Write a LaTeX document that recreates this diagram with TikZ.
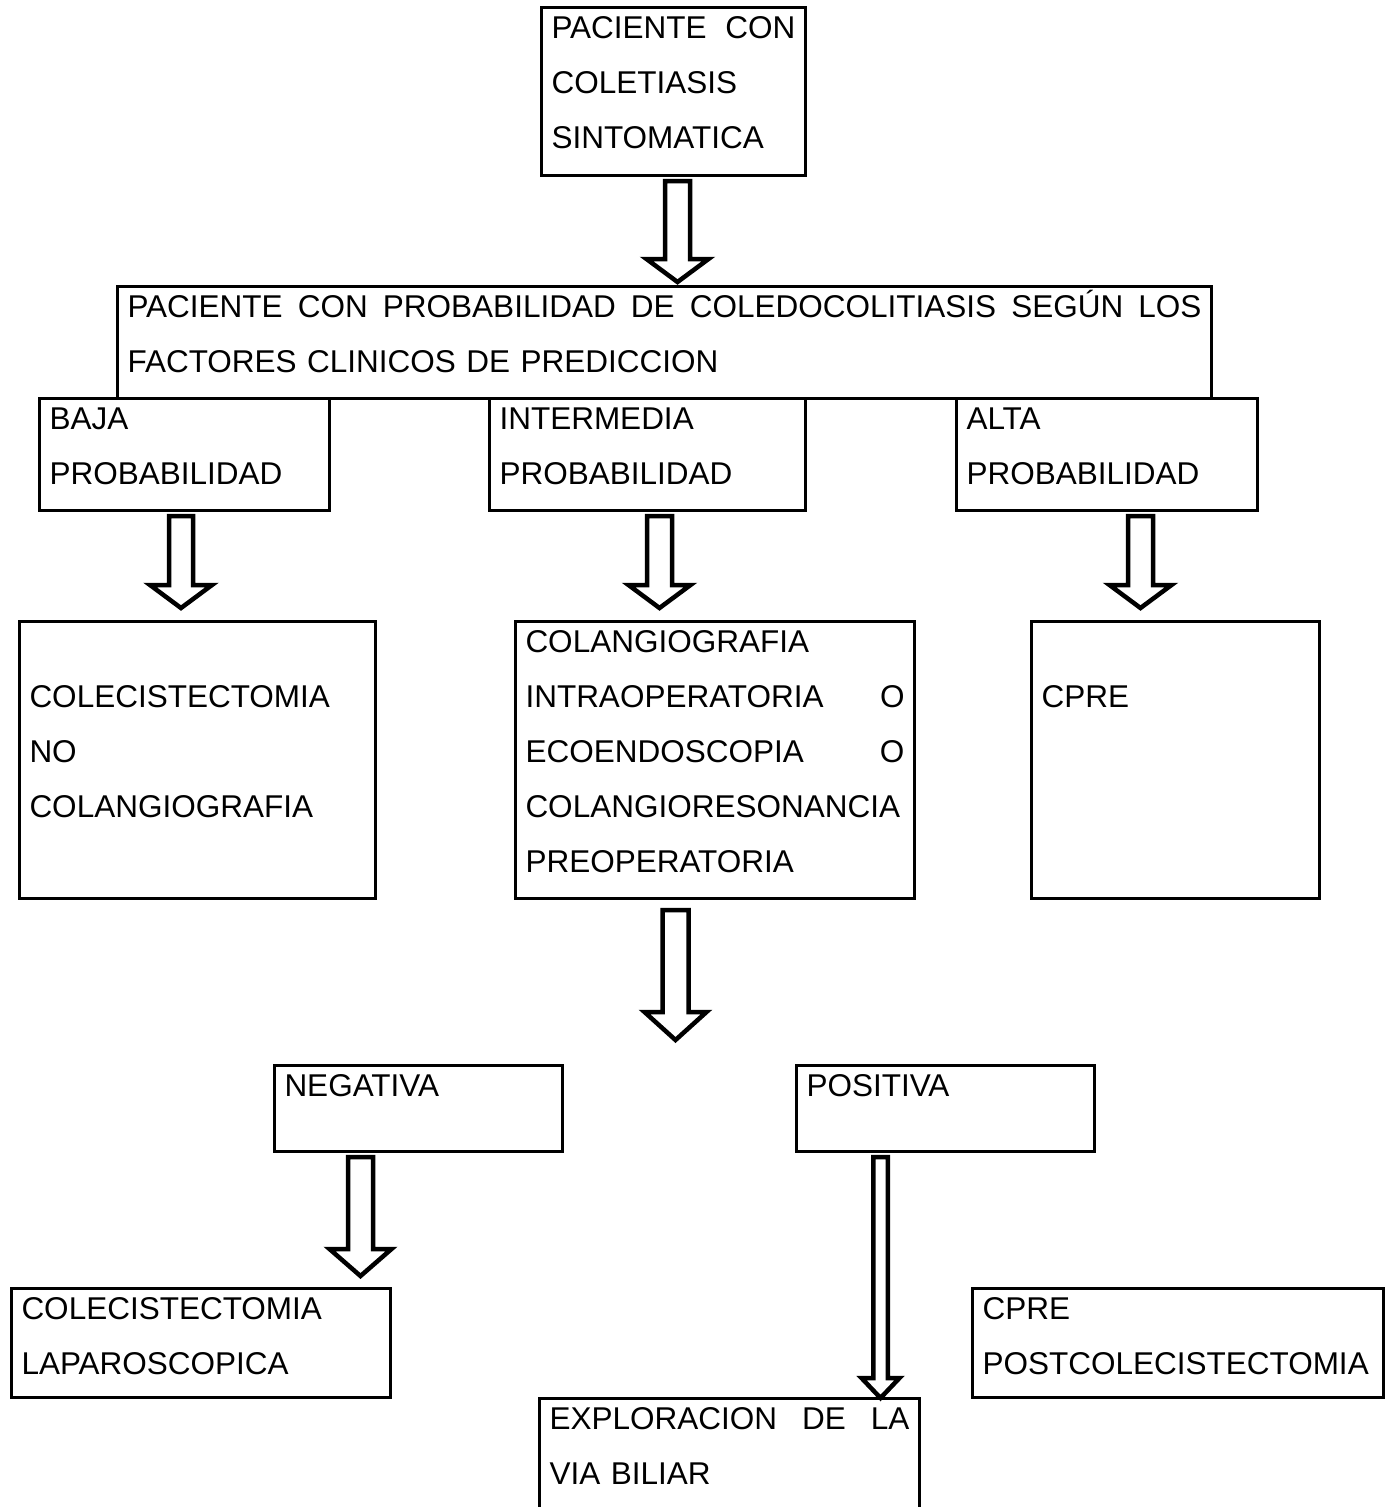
\documentclass[tikz,border=0pt]{standalone}
\usepackage{fontspec}
\setmainfont{Liberation Sans}
\usetikzlibrary{calc}

\tikzset{
  caja/.style={draw, line width=3pt, anchor=north west, inner xsep=10pt, inner ysep=0pt,
    text height=30.5pt, align=left, font=\fontsize{31.5}{55}\selectfont},
  flechaborde/.style={draw, line width=4.5pt, line join=miter, fill=white}
}
% flecha hueca: x, desde, hasta, medio cuerpo, media punta, largo punta
\newcommand{\flecha}[6]{%
  \draw[flechaborde] let \p1=(#2), \p2=(#3) in
    ({(#1-#4)*1pt},{\y1-4pt}) -- ({(#1-#4)*1pt},{\y2+3pt+#6pt})
    -- ({(#1-#5)*1pt},{\y2+3pt+#6pt}) -- ({#1*1pt},{\y2+3pt})
    -- ({(#1+#5)*1pt},{\y2+3pt+#6pt}) -- ({(#1+#4)*1pt},{\y2+3pt+#6pt})
    -- ({(#1+#4)*1pt},{\y1-4pt}) -- cycle;}

\begin{document}
\begin{tikzpicture}[x=1pt, y=-1pt]
\clip (0,0) rectangle (1389,1507);

\node[caja, text width=244pt, text depth=137.5pt] (paciente) at (540,6)
  {PACIENTE\hfill CON\\COLETIASIS\\SINTOMATICA};
\node[caja, text width=1074pt, text depth=81.5pt] (prob) at (116,285)
  {PACIENTE\hfill CON\hfill PROBABILIDAD\hfill DE\hfill COLEDOCOLITIASIS\hfill SEGÚN\hfill LOS\\FACTORES CLINICOS DE PREDICCION};

\node[caja, text width=270pt, text depth=81.5pt] (baja) at (38,397) {BAJA\\PROBABILIDAD};
\node[caja, text width=296pt, text depth=81.5pt] (inter) at (488,397) {INTERMEDIA\\PROBABILIDAD};
\node[caja, text width=281pt, text depth=81.5pt] (alta) at (955,397) {ALTA\\PROBABILIDAD};

\node[caja, text width=336pt, text depth=246.5pt] (colec) at (18,620)
  {\mbox{}\\COLECISTECTOMIA\\NO\\COLANGIOGRAFIA};
\node[caja, text width=379pt, text depth=246.5pt] (colang) at (514,620)
  {COLANGIOGRAFIA\\INTRAOPERATORIA\hfill O\\ECOENDOSCOPIA\hfill O\\COLANGIORESONANCIA\\PREOPERATORIA};
\node[caja, text width=268pt, text depth=246.5pt] (cpre) at (1030,620) {\mbox{}\\CPRE};

\node[caja, text width=268pt, text depth=55.5pt] (neg) at (273,1064) {NEGATIVA};
\node[caja, text width=278pt, text depth=55.5pt] (pos) at (795,1064) {POSITIVA};

\node[caja, text width=359pt, text depth=78.5pt] (lap) at (10,1287) {COLECISTECTOMIA\\LAPAROSCOPICA};
\node[caja, text width=391pt, text depth=78.5pt] (post) at (971,1287) {CPRE\\POSTCOLECISTECTOMIA};
\node[caja, text width=360pt, text depth=89.5pt] (expl) at (538,1397)
  {EXPLORACION\hfill DE\hfill LA\\VIA BILIAR};

\coordinate (bifurca) at (675.5,1043);

% flechas
\flecha{677.5}{paciente.south}{prob.north}{12.5}{31}{23}
\flecha{181}{baja.south}{$(colec.north)+(0,-9)$}{12}{31}{23}
\flecha{659.5}{inter.south}{$(colang.north)+(0,-9)$}{12.5}{31}{23}
\flecha{1140.5}{alta.south}{$(cpre.north)+(0,-9)$}{12.5}{31}{23}
\flecha{675.5}{$(colang.south)+(0,6)$}{bifurca}{13}{31}{28}
\flecha{360.5}{neg.south}{$(lap.north)+(0,-8)$}{12.5}{31}{27}
\flecha{880.5}{pos.south}{$(expl.north)+(0,4)$}{7.25}{19}{20}
\end{tikzpicture}
\end{document}
